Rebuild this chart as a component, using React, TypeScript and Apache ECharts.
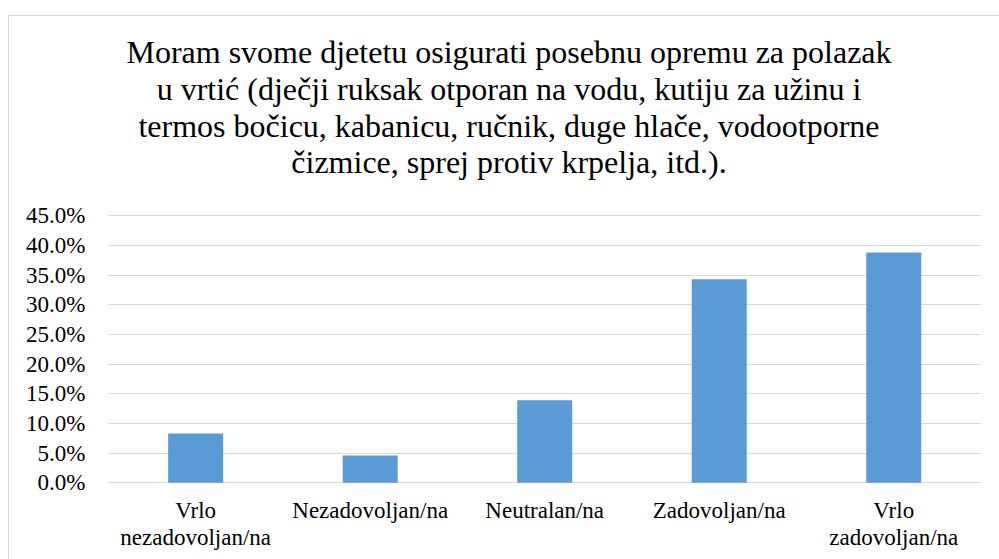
import React, { useEffect, useRef } from "react";
import * as echarts from "echarts";

const titleLines = [
  "Moram svome djetetu osigurati posebnu opremu za polazak",
  "u vrtić (dječji ruksak otporan na vodu, kutiju za užinu i",
  "termos bočicu, kabanicu, ručnik, duge hlače, vodootporne",
  "čizmice, sprej protiv krpelja, itd.).",
];
const categories = [
  "Vrlo\nnezadovoljan/na",
  "Nezadovoljan/na",
  "Neutralan/na",
  "Zadovoljan/na",
  "Vrlo\nzadovoljan/na",
];
const values = [8.3, 4.6, 13.9, 34.3, 38.8];

const FONT = "Liberation Serif";

export default function App() {
  const ref = useRef<HTMLDivElement>(null);
  useEffect(() => {
    if (!ref.current) return;
    const chart = echarts.init(ref.current, null, { renderer: "svg" });
    chart.setOption({
      animation: false,
      backgroundColor: "#ffffff",
      textStyle: { fontFamily: FONT },
      title: {
        text: titleLines.join("\n"),
        left: 509,
        textAlign: "center",
        top: 34,
        padding: 0,
        textStyle: {
          fontFamily: FONT,
          fontSize: 32,
          fontWeight: "normal",
          color: "#000000",
          lineHeight: 36.7,
        },
      },
      graphic: [
        {
          type: "rect",
          shape: { x: 8.5, y: 15.5, width: 1100, height: 700 },
          style: { fill: "none", stroke: "#d9d9d9", lineWidth: 1 },
          silent: true,
        },
      ],
      grid: { left: 108.4, right: 18, top: 215.7, bottom: 76.3, containLabel: false },
      xAxis: {
        type: "category",
        data: categories,
        axisLine: { lineStyle: { color: "#d9d9d9", width: 1 } },
        axisTick: { show: false },
        axisLabel: {
          interval: 0,
          margin: 14,
          fontFamily: FONT,
          fontSize: 23,
          lineHeight: 27,
          color: "#000000",
        },
      },
      yAxis: {
        type: "value",
        min: 0,
        max: 45,
        interval: 5,
        axisLine: { show: false },
        axisTick: { show: false },
        splitLine: { lineStyle: { color: "#d9d9d9", width: 1 } },
        axisLabel: {
          margin: 23,
          fontFamily: FONT,
          fontSize: 23,
          color: "#000000",
          formatter: (v: number) => v.toFixed(1) + "%",
        },
      },
      series: [
        {
          type: "bar",
          data: values,
          barWidth: 55,
          itemStyle: { color: "#5b9bd5" },
        },
      ],
    });
    return () => chart.dispose();
  }, []);
  return (
    <div
      ref={ref}
      style={{ position: "absolute", left: 0, top: 0, width: 999, height: 559 }}
    />
  );
}
